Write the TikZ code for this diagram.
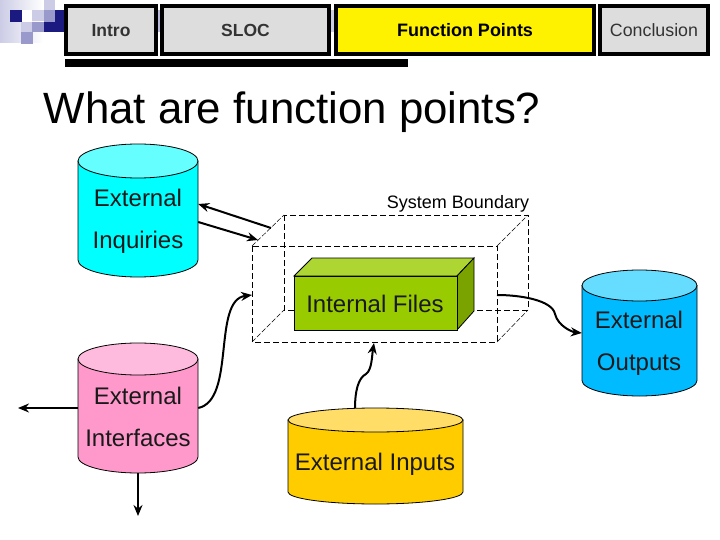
\documentclass[tikz,border=0pt]{standalone}
\usepackage{fontspec}
\setmainfont{Liberation Sans}
\usetikzlibrary{arrows.meta}
\definecolor{cyanbody}{HTML}{00FFFF}
\definecolor{cyantop}{HTML}{66FFFF}
\definecolor{pinkbody}{HTML}{FF99CC}
\definecolor{pinktop}{HTML}{FFBBDD}
\definecolor{bluebody}{HTML}{00BBFF}
\definecolor{bluetop}{HTML}{66DDFF}
\definecolor{yellowbody}{HTML}{FFCC00}
\definecolor{yellowtop}{HTML}{FFDD66}
\definecolor{tabgrey}{HTML}{DDDDDD}
\definecolor{boxfront}{HTML}{99CC00}
\definecolor{boxtop}{HTML}{ADD633}
\definecolor{boxside}{HTML}{7AA300}
\definecolor{navy}{HTML}{1A1A80}
\definecolor{midblue}{HTML}{9999CC}
\definecolor{paleblue}{HTML}{CCCCE6}
\tikzset{
  tabbox/.style={draw=black,line width=4pt,fill=tabgrey,inner sep=0pt,font=\bfseries\fontsize{17.5}{20}\selectfont,text=black!80,text height=14pt,text depth=0pt},
  cylline/.style={draw=black,line width=0.8pt},
  lab/.style={font=\fontsize{24}{28}\selectfont,inner sep=0pt,text=black!90},
  arr/.style={line width=2pt,-{Stealth[length=11pt,width=9pt]}},
  dashline/.style={line width=0.9pt,dash pattern=on 6pt off 3pt},
  thindash/.style={line width=0.5pt,dash pattern=on 5pt off 2pt},
}
% name, left, right, top, bottom, ry, body colour, end colour
\newcommand{\drumshape}[8]{%
  \pgfmathsetmacro{\cxx}{(#2+#3)/2}%
  \pgfmathsetmacro{\rxx}{(#3-#2)/2}%
  \pgfmathsetmacro{\cyy}{(#4+#5)/2}%
  \pgfmathsetmacro{\upy}{#4+#6}%
  \pgfmathsetmacro{\loy}{#5-#6}%
  \pgfmathsetmacro{\cty}{#5-#6*0.45}%
  \pgfmathsetmacro{\xl}{\cxx-\rxx*0.55}%
  \pgfmathsetmacro{\xr}{\cxx+\rxx*0.55}%
  \path[cylline,fill=#7] (#2,\upy) -- (#2,\loy) .. controls (#2,\cty) and (\xl,#5) .. (\cxx,#5) .. controls (\xr,#5) and (#3,\cty) .. (#3,\loy) -- (#3,\upy) -- cycle;%
  \path[cylline,fill=#8] (\cxx,\upy) ellipse [x radius=\rxx pt,y radius=#6 pt];%
  \pgfmathsetmacro{\wdd}{#3-#2}%
  \pgfmathsetmacro{\htt}{#5-#4}%
  \node[minimum width=\wdd pt,minimum height=\htt pt,inner sep=0pt] (#1) at (\cxx,\cyy) {};%
}
\begin{document}
\begin{tikzpicture}[x=1pt,y=-1pt]
\useasboundingbox (0,0) rectangle (720,540);
% logo
\shade[left color=paleblue,right color=white] (0,0) rectangle (43,43);
\fill[white] (22,10) rectangle (32,22);
\fill[paleblue] (44,0) rectangle (55,10);
\fill[paleblue] (32,10) rectangle (44,21);
\fill[midblue] (44,10) rectangle (55,22);
\fill[navy] (10,10) rectangle (22,22);
\fill[navy] (55,10) rectangle (64,32);
\fill[navy] (44,22) rectangle (64,32);
\fill[midblue] (32,22) rectangle (44,32);
\fill[paleblue] (21,22) rectangle (32,32);
\fill[midblue] (21,32) rectangle (33,44);
\fill[midblue!70] (158,10) rectangle (160,32);
\fill[midblue!50] (331,10) rectangle (334,32);
% tabs
\node[tabbox,minimum width=90pt,minimum height=48pt] (intro) at (111,30) {Intro};
\node[tabbox,minimum width=167pt,minimum height=48pt] (sloc) at (245.5,30) {SLOC};
\node[tabbox,fill=yellow,text=black,font=\bfseries\fontsize{18}{20}\selectfont,minimum width=258pt,minimum height=48pt] (fp) at (465,30) {Function Points};
\node[tabbox,font=\fontsize{17.8}{20}\selectfont,text height=13pt,minimum width=108pt,minimum height=48pt] (concl) at (654,30) {Conclusion};
\fill[black] (65,59) rectangle (408,67);
% title
\node[inner sep=0pt,font=\fontsize{43.8}{48}\selectfont] (title) at (292,112) {What are function points?};
% back of boundary
\draw[dashline] (284,215) rectangle (528,310);
\draw[thindash] (252,246) -- (284,215);
\draw[thindash] (497,246) -- (528,215);
\draw[thindash] (252,342) -- (284,310);
\draw[thindash] (497,342) -- (528,310);
% internal files
\draw[fill=boxtop,line width=0.8pt] (294,276) -- (312,258) -- (474,258) -- (457,276) -- cycle;
\draw[fill=boxside,line width=0.8pt] (457,276) -- (474,258) -- (474,311) -- (457,330) -- cycle;
\node[draw,fill=boxfront,line width=0.8pt,minimum width=163pt,minimum height=54pt,inner sep=0pt,anchor=north west] (files) at (294,276) {};
\node[lab] (filestext) at (375,303.5) {Internal Files};
% front of boundary
\draw[dashline] (252,246) rectangle (497,342);
\coordinate (frontleft) at (252,295);
\coordinate (frontright) at (497,295);
\coordinate (frontbottom) at (374,343);
\coordinate (frontcorner) at (258,240);
\coordinate (backcorner) at (271,228);
% cylinders
\drumshape{ei}{78}{198}{144}{277}{17}{cyanbody}{cyantop}
\node[lab] (eia) at (138,198) {External};
\node[lab] (eib) at (138,242) {Inquiries};
\drumshape{ef}{78}{198}{343}{473}{16}{pinkbody}{pinktop}
\node[lab] (efa) at (138,396) {External};
\node[lab] (efb) at (138,438) {Interfaces};
\drumshape{eo}{582}{697}{270}{396}{15.5}{bluebody}{bluetop}
\node[lab] (eoa) at (639,320) {External};
\node[lab] (eob) at (639,365) {Outputs};
\drumshape{ein}{288}{463}{408}{504}{12}{yellowbody}{yellowtop}
\node[lab] (eint) at (375,464) {External Inputs};
\node[inner sep=0pt,font=\fontsize{18}{20}\selectfont] (sb) at (458,204) {System Boundary};
% connectors
\coordinate (efleft) at (18,408);
\coordinate (efdown) at (138,516);
\draw[arr] (backcorner) -- ([yshift=6.5pt]ei.east);
\draw[arr] ([yshift=-11.5pt]ei.east) -- (frontcorner);
\draw[arr] (ef.east) .. controls (236,400) and (212,300) .. (frontleft);
\draw[arr] (ef.west) -- (efleft);
\draw[arr] (ef.south) -- (efdown);
\draw[arr] ([xshift=-20.5pt]ein.north) .. controls (355,392) and (358,378) .. (366,374) .. controls (372,370) and (372,355) .. (frontbottom);
\draw[arr] (frontright) .. controls (520,295) and (552,300) .. (555,314) .. controls (558,326) and (572,332) .. (eo.west);
\end{tikzpicture}
\end{document}
